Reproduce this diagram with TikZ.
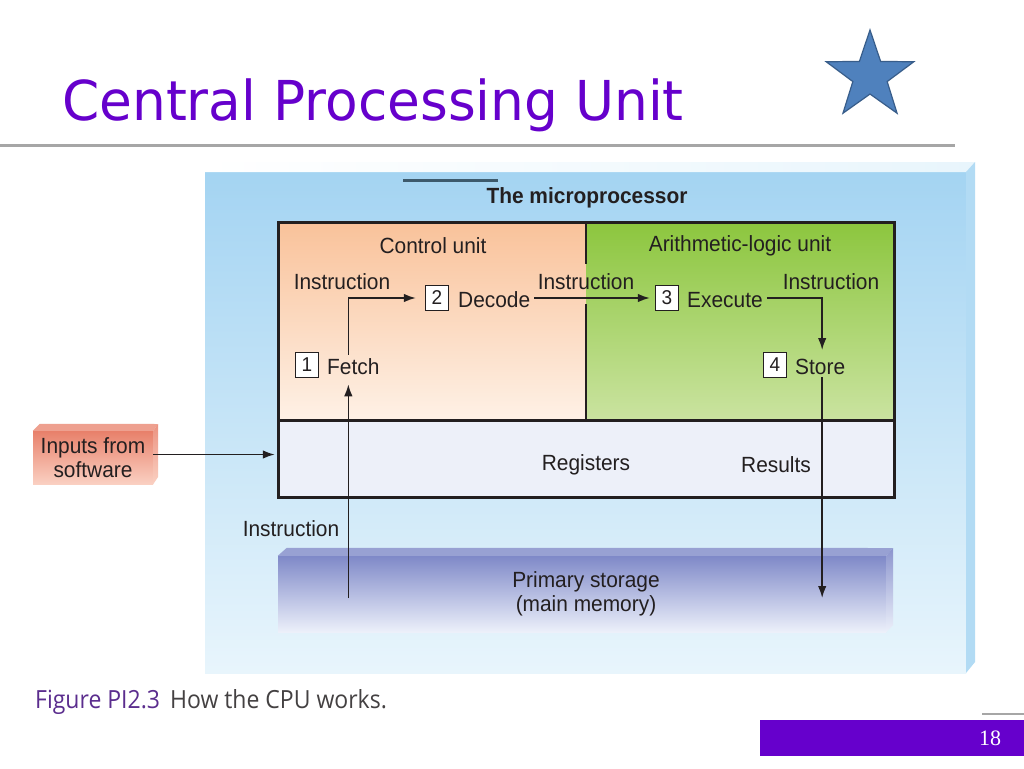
\documentclass[tikz,border=0pt]{standalone}
\usepackage{fontspec}
\setmainfont{Liberation Sans}
\newfontfamily\figfont[FakeStretch=0.95]{Liberation Sans}
\newfontfamily\titlefont[FakeStretch=0.97]{DejaVu Sans}
\newfontfamily\capfont[FakeStretch=0.92]{Open Sans}
\newfontfamily\pagefont{Liberation Serif}
\usetikzlibrary{arrows.meta,shapes.geometric}
\definecolor{titlepurple}{HTML}{6600CC}
\definecolor{starblue}{HTML}{4F81BD}
\definecolor{staredge}{HTML}{385D8A}
\definecolor{panelblue}{HTML}{A4D4F2}
\definecolor{panelpale}{HTML}{E8F5FC}
\definecolor{ctrltop}{HTML}{F9C29A}
\definecolor{ctrlbot}{HTML}{FEF1E6}
\definecolor{alutop}{HTML}{8CC63E}
\definecolor{alubot}{HTML}{CAE3A0}
\definecolor{regfill}{HTML}{EDF0F9}
\definecolor{memtop}{HTML}{7F89C8}
\definecolor{membot}{HTML}{ECF0FA}
\definecolor{inptop}{HTML}{E8806A}
\definecolor{inpbot}{HTML}{FAD0C2}
\definecolor{capviolet}{HTML}{5B2D8E}
\definecolor{ink}{HTML}{231F20}
\definecolor{rulegray}{HTML}{A6A6A6}
\definecolor{slate}{HTML}{3D5A6C}
\begin{document}
\begin{tikzpicture}[x=1pt,y=-1pt,
  lbl/.style={font=\figfont\fontsize{22}{24}\selectfont, text=ink, inner sep=2pt, yshift=-2pt},
  numbox/.style={draw=ink, line width=1.3pt, fill=white, minimum width=23pt, minimum height=25pt,
    inner sep=0pt, font=\figfont\fontsize{20}{22}\selectfont, text=ink},
  arr/.style={-{Latex[length=12pt,width=8.5pt]}, line width=1.6pt, draw=ink},
]
\useasboundingbox (0,0) rectangle (1024,768);
\fill[white] (0,0) rectangle (1024,768);

% slide title
\node[anchor=base west, inner sep=0pt, text=titlepurple, font=\titlefont\fontsize{55}{60}\selectfont]
  (title) at (62,120) {Central Processing Unit};
\node[star, star points=5, star point ratio=2.55, minimum size=92pt, fill=starblue,
  draw=staredge, line width=1.2pt] (deco) at (870,76) {};
\draw[rulegray, line width=3pt] (0,145) -- (955,145);

% blue panel
\shade[top color=panelblue, middle color=panelblue!80!panelpale, bottom color=panelpale]
  (205,172) rectangle (966,673);
\shade[left color=white, right color=panelpale] (205,172) -- (214,162) -- (975,162) -- (966,172) -- cycle;
\fill[panelblue!85!white] (966,172) -- (975,162) -- (975,662) -- (966,673) -- cycle;
\draw[slate, line width=3pt] (403,180) -- (498,180);
\node[lbl, font=\figfont\fontsize{22}{24}\selectfont\bfseries] (chip) at (587,196) {The microprocessor};

% processor box
\shade[top color=ctrltop, bottom color=ctrlbot] (278,222) rectangle (586,420);
\shade[top color=alutop, bottom color=alubot] (586,222) rectangle (894,420);
\node[fill=regfill, minimum width=616pt, minimum height=77pt, inner sep=0pt] (regs) at (586,458.5) {};
\draw[ink, line width=3pt] (278,222) rectangle (894,497);
\draw[ink, line width=3pt] (278,420) -- (894,420);
\draw[ink, line width=2pt] (586,222) -- (586,264) (586,304) -- (586,420);

\node[lbl] (cu) at (433,244) {Control unit};
\node[lbl] (alu) at (740,244) {Arithmetic-logic unit};
\node[lbl] (ins1) at (342,280) {Instruction};
\node[lbl] (ins2) at (586,280) {Instruction};
\node[lbl] (ins3) at (831,280) {Instruction};

% the four steps
\node[numbox] (n1) at (307,365) {1};
\node[lbl, anchor=west] (fetch) at (325,365) {Fetch};
\node[numbox] (n2) at (437,298) {2};
\node[lbl, anchor=west] (decode) at (456,298) {Decode};
\node[numbox] (n3) at (667,298) {3};
\node[lbl, anchor=west] (execute) at (685,298) {Execute};
\node[numbox] (n4) at (775,365) {4};
\node[lbl, anchor=west] (store) at (793,365) {Store};

\node[lbl] (regtxt) at (586,463) {Registers};
\node[lbl] (restxt) at (776,463) {Results};

% primary storage
\node[top color=memtop, bottom color=membot, minimum width=608pt, minimum height=76pt,
  inner sep=0pt] (mem) at (582,594) {};
\fill[memtop!80!white] (mem.north west) -- ++(9,-8) -- (893,548) -- (mem.north east) -- cycle;
\shade[top color=memtop!90!white, bottom color=membot] (mem.north east) -- (893,548) -- (893,625) -- (mem.south east) -- cycle;
\node[lbl, align=center, font=\figfont\fontsize{22}{24}\selectfont] (memtxt) at (586,592)
  {Primary storage\\(main memory)};
\node[lbl] (ins4) at (291,527) {Instruction};

% inputs
\node[top color=inptop, bottom color=inpbot, minimum width=120pt, minimum height=53pt,
  inner sep=0pt, align=center, text=ink, font=\figfont\fontsize{22}{24}\selectfont]
  (inputs) at (93,457.5) {Inputs from\\software};
\fill[inptop!75!white] (inputs.north west) -- ++(7,-7) -- (158,424) -- (inputs.north east) -- cycle;
\shade[top color=inptop!85!white, bottom color=inpbot] (inputs.north east) -- (158,424) -- (158,477) -- (inputs.south east) -- cycle;

% connectors
\draw[arr] ([xshift=-5pt,yshift=2pt]fetch.north) |- ([xshift=-9pt]n2.west);
\draw[arr] ([xshift=2pt]decode.east |- n3.west) -- ([xshift=-5pt]n3.west);
\draw[arr] ([xshift=2pt]execute.east |- n3.east) -| ([xshift=2pt,yshift=7pt]store.north);
\draw[arr] ([xshift=2pt]store.south) -- ([xshift=2pt,yshift=-4pt]store.south |- mem.center);
\draw[arr] ([xshift=-5pt,yshift=-4pt]fetch.south |- mem.center) -- ([xshift=-5pt,yshift=-7pt]fetch.south);
\draw[arr] ([yshift=3pt]inputs.east) -- ([xshift=-3pt,yshift=3pt]inputs.east -| regs.west);

% caption and page number
\node[anchor=base west, inner sep=0pt, font=\capfont\fontsize{25}{28}\selectfont] (cap) at (35,708)
  {\textcolor{capviolet}{Figure PI2.3}\hspace{10pt}\textcolor{ink!85}{How the CPU works.}};
\draw[rulegray, line width=2.5pt] (982,714) -- (1024,714);
\fill[titlepurple] (760,720) rectangle (1024,756);
\node[text=white, font=\pagefont\fontsize{22}{24}\selectfont] (page) at (990,738) {18};
\end{tikzpicture}
\end{document}
